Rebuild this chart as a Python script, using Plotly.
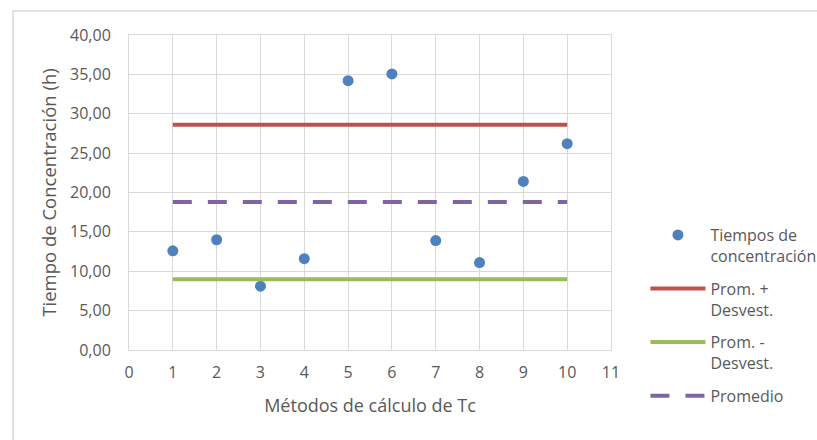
import plotly.graph_objects as go

metodos = [1, 2, 3, 4, 5, 6, 7, 8, 9, 10]
tiempos = [12.6, 14.0, 8.1, 11.6, 34.2, 35.05, 13.9, 11.1, 21.4, 26.2]
prom_mas = [28.6] * 10
prom_menos = [9.0] * 10
promedio = [18.8] * 10

FONT = "Open Sans"
GRAY = "#595959"
GRID = "#d9d9d9"

fig = go.Figure()
fig.add_trace(go.Scatter(x=metodos, y=tiempos, mode="markers",
                         name="Tiempos de<br>concentración", legendgroup="a",
                         marker=dict(color="#4F81BD", size=11)))
fig.add_trace(go.Scatter(x=metodos, y=prom_mas, mode="lines",
                         name="Prom. +<br>Desvest.", legendgroup="b",
                         line=dict(color="#C0504D", width=4)))
fig.add_trace(go.Scatter(x=metodos, y=prom_menos, mode="lines",
                         name="Prom. -<br>Desvest.", legendgroup="c",
                         line=dict(color="#9BBB59", width=4)))
fig.add_trace(go.Scatter(x=metodos, y=promedio, mode="lines",
                         name="Promedio", legendgroup="d",
                         line=dict(color="#8064A2", width=4, dash="19px,16px")))

fig.update_layout(
    width=817, height=440,
    margin=dict(l=129, r=206, t=35, b=90),
    paper_bgcolor="white", plot_bgcolor="white",
    separators=",.",
    font=dict(family=FONT, size=16, color=GRAY),
    legend=dict(xref="container", yref="container", x=0.79, y=0.283,
                xanchor="left", yanchor="middle", valign="top",
                traceorder="grouped", tracegroupgap=9, itemwidth=55,
                font=dict(family=FONT, size=16, color=GRAY),
                bgcolor="rgba(0,0,0,0)"),
    xaxis=dict(range=[0, 11], dtick=1, tick0=0, showgrid=True, gridcolor=GRID,
               gridwidth=1, zeroline=False, showline=True, linecolor=GRID,
               mirror=True, ticks="", ticklabelstandoff=8,
               title=dict(text="Métodos de cálculo de Tc", standoff=17,
                          font=dict(size=18, color=GRAY))),
    yaxis=dict(range=[0, 40], dtick=5, tick0=0, tickformat=".2f",
               showgrid=True, gridcolor=GRID, gridwidth=1, zeroline=False,
               showline=True, linecolor=GRID, mirror=True, ticks="",
               ticklabelstandoff=14,
               title=dict(text="Tiempo de Concentración (h)", standoff=8,
                          font=dict(size=18.5, color=GRAY))),
    shapes=[dict(type="rect", xref="paper", yref="paper",
                 x0=(13 - 129) / 482, x1=(840 - 129) / 482,
                 y0=(350 - 480) / 315, y1=(350 - 11) / 315,
                 line=dict(color="#d9d9d9", width=1.5), layer="below")],
)

fig.write_html("out.html", config={"displayModeBar": False},
               post_script="document.body.style.margin='0';document.body.style.padding='0';")
